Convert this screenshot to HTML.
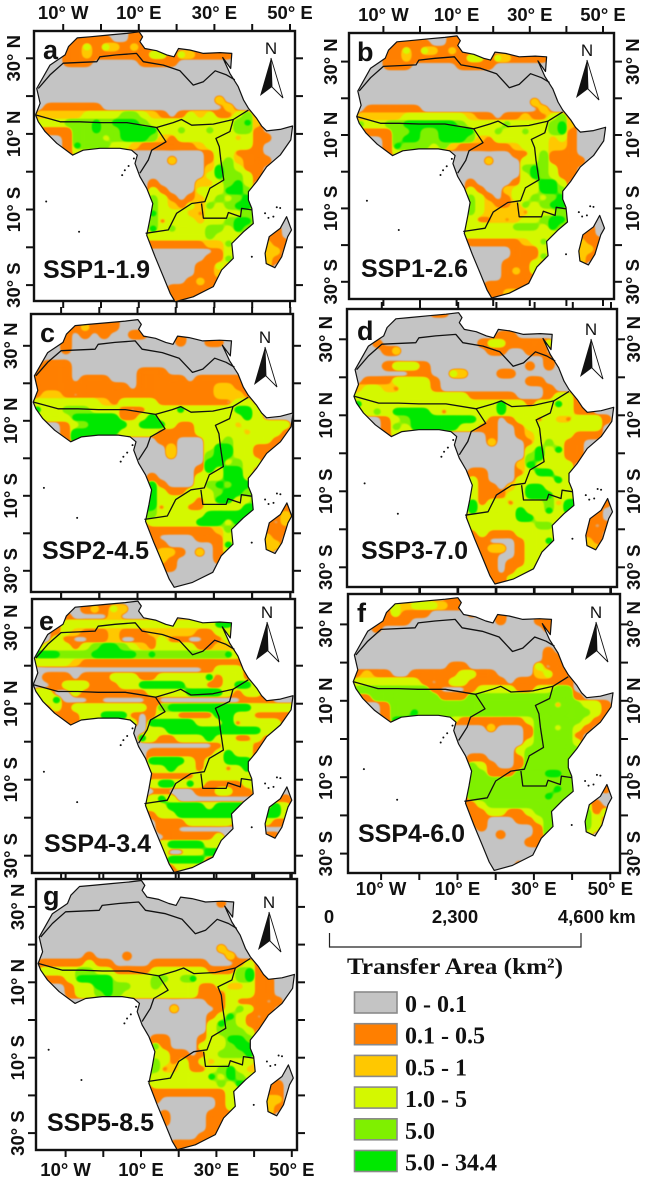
<!DOCTYPE html>
<html lang="en">
<head>
<meta charset="utf-8">
<title>Transfer Area by SSP scenario</title>
<style>
html,body{margin:0;padding:0;background:#fff}
svg{display:block}
.tick-label{font:bold 18.5px "Liberation Sans",Arial,sans-serif;fill:#111;text-anchor:middle}
.panel-letter{font:bold 27px "Liberation Sans",Arial,sans-serif;fill:#111}
.scenario{font:bold 25px "Liberation Sans",Arial,sans-serif;fill:#111}
.north{font:17px "Liberation Sans",Arial,sans-serif;fill:#111;text-anchor:middle}
.legend-text{font:bold 24px "Liberation Serif","Times New Roman",serif;fill:#111}
</style>
</head>
<body>
<svg id="figure" xmlns="http://www.w3.org/2000/svg" width="650" height="1181" viewBox="0 0 650 1181">
  <defs id="defs"></defs>
</svg>
<script>
// ---- Data: classes and axis labels ----
const classLabels = ["0 - 0.1","0.1 - 0.5","0.5 - 1","1.0 - 5","5.0","5.0 - 34.4"];
const classColors = ["#c4c4c4","#ff7f00","#ffc800","#d4f800","#7ff000","#00e800"];
const lonTicks = [-10,0,10,20,30,40,50];
const latTicks = [30,20,10,0,-10,-20,-30];
const lonLabels = {"-10":"10° W","10":"10° E","30":"30° E","50":"50° E"};
const latLabels = {"30":"30° N","10":"10° N","-10":"10° S","-30":"30° S"};
const scaleLabels = ["0","2,300","4,600"];

// ---- Geography in lon/lat degrees ----
const africaCoast = [[-6.3,35.4],[-2.9,35.7],[2.4,36.2],[6.8,36.6],[10.1,37],[11,35.7],[10.3,34.4],[11.6,32.6],[14.7,32],[17.4,30.9],[19.3,30.4],[20.5,32.6],[23.5,32.2],[27.1,31.3],[31.5,31.5],[34.6,31.3],[34.3,27.3],[32.2,30.2],[34.1,26],[36.3,22.5],[37.7,19],[39,16.8],[41.2,14.1],[42.5,12.1],[43.8,10.8],[47.4,11.2],[50.7,12.1],[50.2,8.4],[47.4,4.4],[43.8,1.3],[41.2,-2.6],[39,-5.3],[39,-7.5],[39.9,-9.7],[40.3,-13.7],[37.7,-15.9],[34.6,-19],[35,-22.9],[31.9,-26],[29.7,-30.4],[24.4,-33.1],[19.6,-34.4],[18.3,-32.2],[16.5,-27.8],[14.3,-22.5],[12.1,-16.8],[13,-12.3],[13.7,-8.4],[12.1,-4.4],[10.3,-1.3],[9,2.2],[9.6,4.4],[8.1,5.7],[5,6.2],[-0.3,6.2],[-4.7,5.7],[-7.5,4.4],[-11.7,7.5],[-14.8,10.6],[-16.6,13.2],[-17.3,15],[-16.1,18.1],[-17,22],[-13.5,28.2],[-9.5,30.9],[-8.6,33.1]];
const madagascarCoast = [[49.1,-11.9],[50.4,-15.4],[49.4,-17.2],[47.8,-22.5],[46,-25.4],[43.7,-24.3],[43.4,-21.6],[44.5,-17.2],[47.4,-15]];
const regionBorders = [
  [[-16.6,22],[-13.5,25.6],[-10,28.7],[-1.1,29.1],[-0.3,30.4],[4.1,30.9],[9.4,31.3],[11.2,29.1],[16.5,28.2],[20.9,26.7],[24.4,22.9],[27.1,23.8],[30.2,26.7],[33.2,25.6],[35.4,24.3]],
  [[-17.2,15],[-10.8,13.2],[-5.6,13.2],[-0.3,13],[6.8,13],[14.7,11.7],[19.1,13],[21.3,13.8],[24,12.3],[29.7,12.6],[35,13.8],[39,16.3]],
  [[14.7,11.7],[17.2,7.9],[13.4,5.7],[12.5,3.1],[10.3,-0.4]],
  [[35,13.8],[34.1,10.6],[30.4,8.8],[31.3,6.6],[31.7,3.1],[32.5,-2.2],[28.8,-4.4],[27.5,-7.9],[24,-8.4],[20,-11],[17.8,-15.4],[11.8,-16.3]],
  [[26.6,-8.4],[27.1,-12.3],[33.2,-12.3],[33.7,-10.8],[36.9,-11.9],[37.2,-9.7],[39.9,-10.1]]
];
const islands = [[-14.5,-7.9],[-5.8,-15.9],[6.3,0.4],[7.3,1.5],[5.6,-0.9],[8.7,3.5],[45.6,-11.9],[43.4,-11],[44.3,-12.2],[46.5,-9.4],[47.4,-9.6],[39.9,-22.5]];

// ---- Transfer-area class per grid cell: 2.5 deg columns from 20 W, 2 deg rows from 38 N ----
const gridA = [
"00000 00000 01100","00000 11110 01100","00001 13132 12100","00001 12111 11133 13211 11000","00001 11000 00111 10000","","","","",
"00000 00000 00000 00000 20000","00111 11100 00000 00000 02000","02222 23333 44321 01323 11341","03334 44545 55433 33333 33452","00111 44544 55553 34334 33441","00001 44434 55542 13333 33231 1000","00001 54443 32111 11123 33331","00001 33333 00000 00001 33111",
"00000 00000 00000 20001 34211 1000","00000 00000 00000 00002 54311","00000 00000 00000 00003 54431","00000 00000 00010 00022 34530","00000 00000 00031 00033 35540","00000 00000 00043 10123 43450","00000 00000 00043 21324 34550","00000 00000 00053 33213 33344","00000 00000 00041 33323 34554","00000 00000 00353 43334 43540 0100","00000 00000 00333 33334 33300 1100","00000 00000 00111 11112 24000 2110","00000 00000 00000 00000 13000 2200","00000 00000 00000 00001 14000 2100","00000 00000 00000 00011 32000 2000","00000 00000 00000 00011 20000","00000 00000 00000 00121","00000 00000 00000 11111","00000 00000 00000 11110","00000 00000 00000 11100"];
const gridB = [
"00000 00000 01100","00000 11110 01100","00001 13132 12100","00001 12111 11133 13211 11000","00001 11000 00111 10000","","","","",
"00000 00000 00000 00000 20000","00111 11100 00000 00000 02000","02222 23333 33321 10112 11341","04334 45555 55433 33433 33452","00111 44544 55553 34334 33451","00001 45544 55542 13333 33231","00001 54443 42111 11123 33221","00001 33333 00000 00011 34111",
"00000 00000 00000 20003 34111 1000","00000 00000 00000 00004 54311","00000 00000 00000 00003 54311","00000 00000 00010 00013 35530","00000 00000 00031 00233 35540","00000 00000 00043 10133 43450","00000 00000 00043 21024 34550","00000 00000 00043 22221 33344","00000 00000 00031 12123 34554","00000 00000 00333 33344 43540 0100","00000 00000 00333 33333 33300 1100","00000 00000 00011 11112 34000 2110","00000 00000 00000 00011 13000 2210","00000 00000 00000 00011 14000 2100","00000 00000 00000 00111 32000 2000","00000 00000 00000 00121 30000","00000 00000 00000 00111","00000 00000 00000 11111","00000 00000 00000 11221","00000 00000 00000 111"];
const gridC = [
"00000 00011","00000 12111","00001 01010 01100 01000","00001 00000 00000 01001 10000","00001","","00111","01111 00000 00111","11111 01110 00111 11011 11100","01111 11111 10111 11111 22100","01221 01111 11111 11111 22210","03333 33321 33331 11111 10330","05334 44333 10133 35333 33553","00333 55555 11353 33333 33353","00001 34555 53555 31133 33233 3330","00001 55555 33331 11133 33323 3310","00001 53333 00001 10003 34333 3100",
"00000 00000 00000 20003 55331 1100","00000 00000 00000 20004 55331 1000","00000 00000 00000 00005 53433","00000 00000 00000 00015 35530","00000 00000 00010 00033 35530","00000 00000 00051 00034 54550","00000 00000 00053 11333 45540","00000 00000 00053 33313 55334","00000 00000 00051 33113 33355 0010","00000 00000 00543 33335 55553 0120","00000 00000 00133 33355 53530 1020","00000 00000 00011 11111 24300 1110","00000 00000 00010 00011 13000 2100","00000 00000 00011 00000 15000 2200","00000 00000 00012 21020 13000 2000","00000 00000 00002 10000 10000","00000 00000 00001 10000","","",""];
const gridD = [
"00000 00001 10000","","","00000 00000 00000 01100","00010 00000 00001 33111 13000","00001 20000 00000 11001 10000","00000 00000 00000 00000 01000","00001 33310 00000 00001 01000","00000 00110 03200 01100","00111 33331 00000 00001 10000","02332 13331 00000 00000 01000","03333 33333 33311 11100 01330","05333 33333 33333 35331 33531","00343 55553 13333 35333 33331 1000","00001 34555 55553 10133 13213 3310","00001 43555 55331 10013 33333 3300","00001 33000 00000 10012 33331 1100",
"00000 00000 00000 20001 34311","00000 00000 00000 00003 53511","00000 00000 00000 00004 53311","00000 00000 00000 00025 33330","00000 00000 00011 00013 55330","00000 00000 00031 00033 33530","00000 00000 00031 10235 53330","00000 00000 00031 11335 55330","00000 00000 00051 33133 34255 0010","00000 00000 00053 33353 35353 0100","00000 00000 00133 33355 33330 1100","00000 00000 00033 33333 44300 1010","00000 00000 00013 11133 33000 1100","00000 00000 00011 00013 35000 2100","00000 00000 00001 22013 33000 2200","00000 00000 00001 10013 31000 2000","00000 00000 00001 10113 10000","00000 00000 00000 10133","00000 00000 00000 11331","00000 00000 00000 111"];
const gridE = [
"","00000 01213 20000","00001 00002","00003 33333 33333 33333 55000","00013 21112 11122 22211 33000","00031 00112 00113 11001 13000","00333 13455 43213 33311 22100","05554 44555 55454 44444 45300","03333 21111 11111 11111 11110","00000 00000 00000 00001 33310","00111 01113 33113 33335 13310","00013 33111 33555 55331 13553","03300 31111 11133 33555 53133","00350 00100 00010 00000 00011 1000","00131 33333 33314 55555 55553 3335","00011 13355 51013 31111 55331 1110","00001 13223 33055 55533 35133 3310",
"00000 00000 00033 55555 55555 3300","00000 00000 00531 13335 33113 1000","00000 00000 00000 00000 13331","00000 00000 00011 11111 35331","00000 00000 00055 55313 35550","00000 00000 00033 53313 31350","00000 00000 00011 11133 33330","00000 00000 00035 53531 11131","00000 00000 00001 00011 33113","00000 00000 00035 30000 00000 0010","00000 00000 00333 55553 55550 0530","00000 00000 00013 35555 55530 5530","00000 00000 00001 11333 33100 3110","00000 00000 00001 10000","00000 00000 00000 11111 30000 1100","00000 00000 00003 55553 33000","00000 00000 00003 00335 50000","00000 00000 00000 55551 10000","00000 00000 00000 13311",""];
const gridF = [
"00000 00000 01100","00000 32333 21100","00001 31110 00010 01000","00001 11000 00000 01000 11000","00010 00000 00000 00000 01000","","","00000 00000 00000 00000 01000","00000 00000 00000 00000 01100","00000 00000 01100 00000 30100","01211 00111 11331 10000 23110","03333 33310 13311 11011 11110","04444 44441 00013 33311 33440","00144 44444 11144 44444 44441","00001 44444 44444 44444 44244 3310","00001 44544 44444 44444 44444 4310","00001 55444 43111 11113 44444 3100",
"00000 00000 00000 20001 44343 1000","00000 00000 00000 00001 44441","00000 00000 00000 00003 44443","00000 00000 00000 00034 44444","00000 00000 00011 00014 44440","00000 00000 00043 10014 44440","00000 00000 00044 11144 45540","00000 00000 00044 44444 44440","00000 00000 00044 44444 44544 0010","00000 00000 00044 44444 45444","00000 00000 00113 44444 44440 3100","00000 00000 00011 33113 44300 4130","00000 00000 00011 00011 34000 4300","00000 00000 00001 00000 14000 4300","00000 00000 00000 01000 14000 3000","00000 00000 00000 00001 11000","","","00000 00000 00000 00010",""];
const gridG = [
"","","","00000 00000 00000 00000 10000","","","","","","00000 00000 00000 00000 20000","00000 01000 10000 00000 02000","01111 13110 00011 11110 00131","03333 44331 11133 33331 11451","00113 55553 33344 34533 33451 1000","00001 33554 43343 33311 32231 1000","00001 33454 33333 33311 13331 1000","00000 00000 00000 00001 13111 0100",
"00000 00000 00000 20000 13431 1000","00000 00000 00000 00001 35310 1000","00000 00000 00000 00003 54311","00000 00000 00000 00003 44430","00000 00000 00011 00013 35540","00000 00000 00041 00033 34550","00000 00000 00033 11013 44450","00000 00000 00043 13132 33330","00000 00000 00041 23113 45321","00000 00000 00433 33335 35433","00000 00000 00133 33333 43550 0100","00000 00000 00011 11111 13300 1100","00000 00000 00010 00000 13500 2200","00000 00000 00000 00000 13000 2100","00000 00000 00001 00001 11000 2000","00000 00000 00001 00001 11000","00000 00000 00000 00001 10000","00000 00000 00000 00011","00000 00000 00000 11110",""];

// ---- Panel names ----
const panelLetters = ["a","b","c","d","e","f","g"];
const scenarioNames = ["SSP1-1.9","SSP1-2.6","SSP2-4.5","SSP3-7.0","SSP4-3.4","SSP4-6.0","SSP5-8.5"];
const panelGrids = [gridA,gridB,gridC,gridD,gridE,gridF,gridG];

// ---- Layout (pixels, not data) ----
const panelLayouts = [
 {l:34,r:295,t:31,b:301,x0:101,sx:3.78,y0:171.7,sy:3.78,top:19,left:20,letter:[43,59],ssp:[43,278],north:[271,58]},
 {l:349,r:614,t:33,b:299,x0:420,sx:3.66,y0:171.7,sy:3.67,top:21,left:337,right:639,letter:[357,61],ssp:[361,277],north:[587,60]},
 {l:31,r:293,t:314,b:592,x0:99.3,sx:3.82,y0:458.3,sy:3.75,left:17,letter:[40,342],ssp:[42,559],north:[265,347]},
 {l:347,r:617,t:309,b:587,x0:420,sx:3.82,y0:453.3,sy:3.8,left:332,right:640,letter:[357,340],ssp:[361,559],north:[591,339]},
 {l:32,r:295,t:599,b:873,x0:99.3,sx:3.82,y0:741.7,sy:3.8,left:17,letter:[39,630],ssp:[44,852],north:[267,622]},
 {l:348,r:620,t:594,b:873,x0:419.3,sx:3.82,y0:739,sy:3.82,left:332,right:640,bottom:895,letter:[357,622],ssp:[358,842],north:[596,622]},
 {l:36,r:297,t:879,b:1150,x0:103.3,sx:3.77,y0:1020,sy:3.77,left:24,bottom:1176,letter:[43,905],ssp:[47,1131],north:[269,912]}
];
const NS = "http://www.w3.org/2000/svg";
const svg = document.getElementById("figure");
const defs = document.getElementById("defs");
function mk(tag, parent, attrs){
  const e = document.createElementNS(NS, tag);
  for (const k in attrs) e.setAttribute(k, attrs[k]);
  parent.appendChild(e);
  return e;
}
// Threshold filters give each class a smooth contour from the grid cells
const levelThresholds = [0.38,0.44,0.48,0.5,0.52];
levelThresholds.forEach(function(t, i){
  const f = mk("filter", defs, {id:"iso"+(i+1), x:"0", y:"0", width:"100%", height:"100%", "color-interpolation-filters":"sRGB"});
  mk("feGaussianBlur", f, {stdDeviation:"3.4"});
  const c = mk("feComponentTransfer", f, {});
  mk("feFuncA", c, {type:"linear", slope:"9", intercept:String(0.5 - 9*t)});
  mk("feGaussianBlur", f, {stdDeviation:"0.5"});
});

panelLayouts.forEach(function(p, idx){
  const X = function(lon){ return p.x0 + lon*p.sx; };
  const Y = function(lat){ return p.y0 - lat*p.sy; };
  const line = function(pts){ return pts.map(function(q,i){ return (i?"L":"M")+X(q[0]).toFixed(1)+" "+Y(q[1]).toFixed(1); }).join(""); };
  const landPath = line(africaCoast)+"Z"+line(madagascarCoast)+"Z";
  const letter = panelLetters[idx];

  const g = mk("g", svg, {});
  
  

  const frame = mk("rect", g, {x:p.l, y:p.t, width:p.r-p.l, height:p.b-p.t, fill:"#fff", stroke:"#111", "stroke-width":"2.4"});
  
  

  lonTicks.forEach(function(v){
    const up = mk("line", g, {x1:X(v), x2:X(v), y1:p.t-7, y2:p.t, stroke:"#111", "stroke-width":"2"});
    
    
    const dn = mk("line", g, {x1:X(v), x2:X(v), y1:p.b, y2:p.b+7, stroke:"#111", "stroke-width":"2"});
    
    
    if (lonLabels[v]) {
      if (p.top) {
        const t = mk("text", g, {x:X(v), y:p.top, class:"tick-label"});
        t.textContent = lonLabels[v];
        
        
      }
      if (p.bottom) {
        const t = mk("text", g, {x:X(v), y:p.bottom, class:"tick-label"});
        t.textContent = lonLabels[v];
        
        
      }
    }
  });
  latTicks.forEach(function(v){
    const lf = mk("line", g, {x1:p.l-8, x2:p.l, y1:Y(v), y2:Y(v), stroke:"#111", "stroke-width":"2"});
    
    
    const rt = mk("line", g, {x1:p.r, x2:p.r+8, y1:Y(v), y2:Y(v), stroke:"#111", "stroke-width":"2"});
    
    
    if (latLabels[v]) {
      [p.left, p.right].forEach(function(bx){
        if (!bx) return;
        const t = mk("text", g, {x:bx, y:Y(v), class:"tick-label", transform:"rotate(-90 "+bx+" "+Y(v)+")"});
        t.textContent = latLabels[v];
        
        
      });
    }
  });

  const clip = mk("clipPath", defs, {id:"land"+idx});
  mk("path", clip, {d:landPath});

  const land = mk("path", g, {d:landPath, fill:classColors[0]});
  
  

  const clipped = mk("g", g, {"clip-path":"url(#land"+idx+")"});
  
  

  const rows = panelGrids[idx].map(function(s){ return s.replace(/ /g,""); });
  for (let level = 1; level <= 5; level++) {
    const lg = mk("g", clipped, {filter:"url(#iso"+level+")", fill:classColors[level]});
    
    
    mk("rect", lg, {x:p.l, y:p.t, width:p.r-p.l, height:p.b-p.t, fill:"none"});
    rows.forEach(function(row, r){
      const latTop = 38 - 2*r;
      for (let c = 0; c < row.length; c++) {
        if (Number(row[c]) >= level) {
          const lonLeft = -20 + 2.5*c;
          const cell = mk("rect", lg, {x:X(lonLeft).toFixed(2), y:Y(latTop).toFixed(2), width:(2.5*p.sx+0.3).toFixed(2), height:(2*p.sy+0.3).toFixed(2)});
          
          
        }
      }
    });
  }

  const coast = mk("path", g, {d:landPath, fill:"none", stroke:"#111", "stroke-width":"1.2", "stroke-linejoin":"round"});
  
  

  regionBorders.forEach(function(b){
    const bp = mk("path", g, {d:line(b), fill:"none", stroke:"#111", "stroke-width":"1.3", "stroke-linejoin":"round"});
    
    
  });

  islands.forEach(function(q){
    const dot = mk("circle", g, {cx:X(q[0]), cy:Y(q[1]), r:"1", fill:"#111"});
    
    
  });

  const lt = mk("text", g, {x:p.letter[0], y:p.letter[1], class:"panel-letter"});
  lt.textContent = letter;
  
  

  const ss = mk("text", g, {x:p.ssp[0], y:p.ssp[1], class:"scenario"});
  ss.textContent = scenarioNames[idx];
  
  

  const nx = p.north[0], ny = p.north[1];
  const arrow = mk("g", g, {transform:"translate("+nx+" "+ny+")"});
  
  
  const nt = mk("text", arrow, {x:"0", y:"-4", class:"north"});
  nt.textContent = "N";
  mk("path", arrow, {d:"M0 0L-11 38L1 29Z", fill:"#111"});
  mk("path", arrow, {d:"M0 0L12 40L1 29Z", fill:"#fff", stroke:"#111", "stroke-width":"0.9"});
});

// ---- Scale bar ----
const scale = mk("g", svg, {});


mk("path", scale, {d:"M329.5 933V947H581V933", fill:"none", stroke:"#222", "stroke-width":"1.2"});
[329,455,581].forEach(function(x, i){
  const t = mk("text", scale, {x:x, y:923, class:"tick-label"});
  t.textContent = scaleLabels[i];
  
  
});
const km = mk("text", scale, {x:609, y:923, class:"tick-label", style:"text-anchor:start"});
km.textContent = "km";



// ---- Legend ----
const legend = mk("g", svg, {});


const title = mk("text", legend, {x:347, y:974, class:"legend-text", style:"font-size:23px", textLength:"216", lengthAdjust:"spacingAndGlyphs"});
title.textContent = "Transfer Area (km²)";


classLabels.forEach(function(label, i){
  const y = 992 + i*31.7;
  const sw = mk("rect", legend, {x:354.5, y:y, width:42.5, height:21, fill:classColors[i], stroke:"#8a8a8a", "stroke-width":"1.6"});
  
  
  const t = mk("text", legend, {x:405, y:y+20, class:"legend-text"});
  t.textContent = label;
  
  
});
</script>
</body>
</html>
